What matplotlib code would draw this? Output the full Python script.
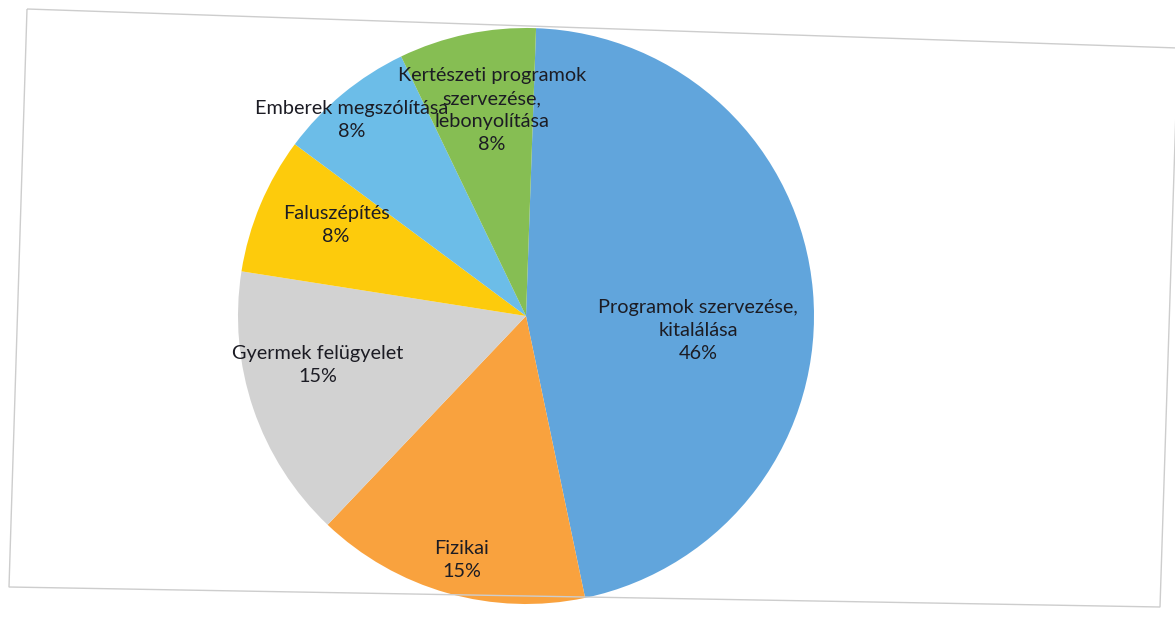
import numpy as np
import matplotlib.pyplot as plt
from matplotlib.patches import Polygon

# adatok
kategoriak = ["Programok szervezése,\nkitalálása", "Fizikai", "Gyermek felügyelet",
              "Faluszépítés", "Emberek megszólítása",
              "Kertészeti programok\nszervezése,\nlebonyolítása"]
ertekek = [6, 2, 2, 1, 1, 1]
szinek = ["#61A5DC", "#F9A23E", "#D2D2D2", "#FDCB0C", "#6CBDE8", "#86BE53"]

# címkék helye (sugár arány, szög fokban)
cimke_r = [0.60, 0.876, 0.742, 0.731, 0.91, 0.725]
cimke_szog = [-4.7, -104.7, 193.3, 154.4, 131.6, 99.4]

W, H = 1175, 621
fig = plt.figure(figsize=(W / 100, H / 100), dpi=100)
fig.patch.set_facecolor("white")

# keret (kicsit ferde, beszkennelt lap)
keret = Polygon([(27 / W, 1 - 9 / H), (1178 / W, 1 - 48 / H),
                 (1160 / W, 1 - 607 / H), (9 / W, 1 - 587 / H)],
                closed=True, fill=False, edgecolor="#CDCDCD", linewidth=1.0,
                transform=fig.transFigure)
fig.patches.append(keret)

cx, cy, r = 526, 316, 288
ax = fig.add_axes([(cx - r) / W, (H - cy - r) / H, 2 * r / W, 2 * r / H])
ax.pie(ertekek, colors=szinek, startangle=88, counterclock=False,
       radius=1, wedgeprops=dict(linewidth=0))
ax.set_xlim(-1, 1)
ax.set_ylim(-1, 1)
ax.set_aspect("equal")
ax.axis("off")

osszeg = sum(ertekek)
for nev, v, rr, sz in zip(kategoriak, ertekek, cimke_r, cimke_szog):
    szazalek = round(v / osszeg * 100)
    x = rr * np.cos(np.radians(sz))
    y = rr * np.sin(np.radians(sz))
    ax.text(x, y, f"{nev}\n{szazalek}%", ha="center", va="center",
            fontsize=14.3, family="Lato", color="#1C1C24", linespacing=1.42)

plt.savefig("out.png", dpi=100)
